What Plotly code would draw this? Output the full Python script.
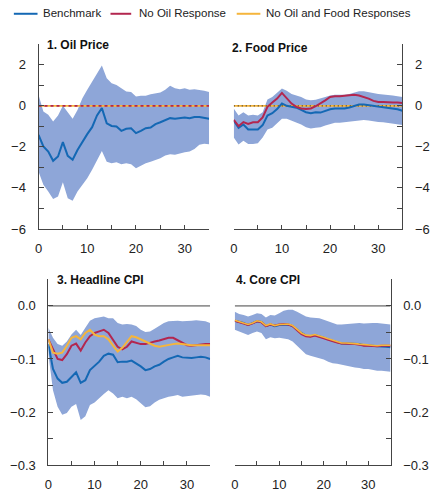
import plotly.graph_objects as go

W, H = 430, 495
months = list(range(36))

# Panel 1: Oil price
oil_bench = [-1.41,-1.98,-2.23,-2.68,-2.47,-1.77,-2.44,-2.63,-2.15,-1.74,-1.38,-1.04,-0.47,-0.11,-0.85,-0.98,-1.01,-1.22,-1.12,-1.09,-1.33,-1.22,-1.09,-1.06,-0.89,-0.80,-0.68,-0.60,-0.63,-0.60,-0.57,-0.60,-0.54,-0.54,-0.60,-0.63]
oil_upper = [0.54,-0.28,-0.44,-0.76,-0.47,0.0,-0.31,-0.63,-0.2,0.37,0.78,1.19,1.59,1.97,1.35,1.1,1.02,0.86,0.7,0.67,0.46,0.49,0.49,0.57,0.62,0.65,0.78,0.98,0.86,0.81,0.86,0.78,0.81,0.78,0.73,0.67]
oil_lower = [-3.2,-3.85,-4.18,-4.54,-4.42,-3.72,-4.5,-4.63,-4.18,-3.85,-3.53,-3.12,-2.63,-2.2,-2.72,-2.8,-2.75,-2.85,-2.8,-2.85,-3.04,-2.91,-2.8,-2.72,-2.63,-2.55,-2.42,-2.36,-2.39,-2.31,-2.26,-2.23,-2.1,-1.9,-1.85,-1.87]
oil_nooil = [0]*36
oil_nooilfood = [0]*36

# Panel 2: Food price
food_bench = [-0.72,-1.07,-0.91,-1.15,-1.15,-1.15,-0.94,-0.47,-0.36,-0.16,0.11,0.0,-0.05,-0.09,-0.2,-0.31,-0.36,-0.31,-0.33,-0.25,-0.17,-0.13,-0.13,-0.13,-0.08,0.0,0.06,0.06,0.03,0.0,-0.03,-0.05,-0.09,-0.13,-0.17,-0.24]
food_nooil = [-0.68,-0.99,-0.79,-0.88,-0.8,-0.8,-0.57,-0.05,0.16,0.35,0.63,0.35,0.11,-0.05,-0.13,-0.16,-0.13,-0.02,0.11,0.27,0.43,0.47,0.47,0.5,0.54,0.54,0.5,0.43,0.35,0.24,0.19,0.19,0.16,0.16,0.16,0.14]
food_nooilfood = [0]*36
food_upper = [-0.13,-0.47,-0.31,-0.47,-0.44,-0.47,-0.31,0.31,0.43,0.63,0.85,0.74,0.58,0.5,0.43,0.31,0.27,0.3,0.35,0.43,0.5,0.54,0.54,0.54,0.58,0.66,0.71,0.71,0.66,0.63,0.58,0.55,0.54,0.5,0.47,0.43]
food_lower = [-1.54,-1.89,-1.7,-1.86,-1.86,-1.83,-1.54,-1.15,-1.07,-0.83,-0.63,-0.63,-0.72,-0.79,-0.91,-1.04,-1.1,-1.07,-1.04,-0.96,-0.88,-0.83,-0.82,-0.79,-0.76,-0.72,-0.69,-0.69,-0.72,-0.76,-0.79,-0.8,-0.83,-0.87,-0.91,-0.94]

# Panel 3: Headline CPI
head_bench = [-0.072,-0.119,-0.137,-0.145,-0.143,-0.134,-0.125,-0.145,-0.140,-0.121,-0.113,-0.105,-0.094,-0.090,-0.092,-0.106,-0.105,-0.105,-0.103,-0.108,-0.114,-0.121,-0.119,-0.114,-0.111,-0.105,-0.100,-0.097,-0.094,-0.097,-0.098,-0.098,-0.097,-0.096,-0.097,-0.100]
head_nooil = [-0.063,-0.082,-0.100,-0.102,-0.091,-0.075,-0.071,-0.084,-0.069,-0.057,-0.051,-0.048,-0.045,-0.051,-0.063,-0.077,-0.082,-0.077,-0.067,-0.069,-0.072,-0.072,-0.069,-0.067,-0.065,-0.063,-0.060,-0.060,-0.065,-0.069,-0.074,-0.075,-0.074,-0.072,-0.072,-0.072]
head_nooilfood = [-0.063,-0.088,-0.090,-0.088,-0.075,-0.060,-0.057,-0.063,-0.051,-0.045,-0.054,-0.057,-0.057,-0.063,-0.075,-0.086,-0.079,-0.069,-0.057,-0.059,-0.063,-0.067,-0.072,-0.075,-0.077,-0.075,-0.074,-0.072,-0.071,-0.072,-0.074,-0.074,-0.074,-0.074,-0.074,-0.074]
head_upper = [-0.041,-0.060,-0.072,-0.075,-0.067,-0.054,-0.045,-0.055,-0.041,-0.028,-0.023,-0.022,-0.020,-0.023,-0.023,-0.032,-0.035,-0.034,-0.035,-0.038,-0.045,-0.049,-0.048,-0.043,-0.037,-0.032,-0.029,-0.028,-0.028,-0.029,-0.029,-0.028,-0.027,-0.028,-0.029,-0.032]
head_lower = [-0.091,-0.159,-0.190,-0.205,-0.202,-0.190,-0.185,-0.215,-0.208,-0.187,-0.182,-0.173,-0.166,-0.159,-0.165,-0.174,-0.171,-0.174,-0.171,-0.176,-0.184,-0.191,-0.189,-0.182,-0.177,-0.174,-0.171,-0.170,-0.168,-0.171,-0.170,-0.168,-0.168,-0.167,-0.168,-0.171]

# Panel 4: Core CPI
core_bench = [-0.028,-0.030,-0.032,-0.036,-0.032,-0.029,-0.030,-0.038,-0.035,-0.038,-0.036,-0.035,-0.035,-0.038,-0.045,-0.051,-0.056,-0.057,-0.055,-0.057,-0.060,-0.063,-0.066,-0.069,-0.071,-0.071,-0.071,-0.071,-0.072,-0.074,-0.074,-0.075,-0.076,-0.076,-0.077,-0.078]
core_nooil = [-0.028,-0.031,-0.033,-0.036,-0.033,-0.029,-0.031,-0.038,-0.035,-0.037,-0.035,-0.034,-0.035,-0.038,-0.046,-0.053,-0.057,-0.058,-0.056,-0.058,-0.061,-0.064,-0.067,-0.069,-0.071,-0.071,-0.071,-0.072,-0.073,-0.075,-0.075,-0.076,-0.076,-0.075,-0.075,-0.075]
core_nooilfood = [-0.027,-0.030,-0.032,-0.035,-0.032,-0.028,-0.030,-0.037,-0.034,-0.037,-0.035,-0.034,-0.034,-0.037,-0.044,-0.051,-0.055,-0.056,-0.054,-0.056,-0.059,-0.062,-0.065,-0.068,-0.070,-0.070,-0.070,-0.071,-0.072,-0.073,-0.074,-0.075,-0.075,-0.074,-0.074,-0.074]
core_upper = [-0.011,-0.015,-0.017,-0.020,-0.017,-0.014,-0.015,-0.022,-0.017,-0.018,-0.014,-0.009,-0.007,-0.007,-0.011,-0.015,-0.020,-0.022,-0.022,-0.023,-0.026,-0.029,-0.032,-0.035,-0.035,-0.034,-0.033,-0.032,-0.032,-0.033,-0.032,-0.032,-0.032,-0.033,-0.034,-0.035]
core_lower = [-0.045,-0.048,-0.051,-0.055,-0.051,-0.048,-0.051,-0.063,-0.059,-0.061,-0.060,-0.061,-0.063,-0.067,-0.075,-0.083,-0.091,-0.094,-0.096,-0.098,-0.101,-0.105,-0.108,-0.109,-0.111,-0.113,-0.114,-0.116,-0.117,-0.119,-0.119,-0.121,-0.122,-0.122,-0.123,-0.124]

legend_names = ["Benchmark", "No Oil Response", "No Oil and Food Responses"]
titles = ["1. Oil Price", "2. Food Price", "3. Headline CPI", "4. Core CPI"]
x_tickvals = [0, 5, 10, 15, 20, 25, 30, 35]
x_ticktext = ["0", "", "10", "", "20", "", "30", ""]
top_tickvals = [-6, -5, -4, -3, -2, -1, 0, 1, 2]
top_ticktext = ["−6", "", "−4", "", "−2", "", "0", "", "2"]
bot_tickvals = [-0.3, -0.25, -0.2, -0.15, -0.1, -0.05, 0.0]
bot_ticktext = ["−0.3", "", "−0.2", "", "−0.1", "", "0.0"]

BLUE = "#1468b4"
RED = "#b3264f"
YELLOW = "#f5b53c"
BAND = "#8ea6d8"
AX = "#444444"
FONT = "Liberation Sans"

fig = go.Figure()

def band(xa, ya, up, lo):
    fig.add_trace(go.Scatter(x=months, y=lo, mode="lines", line=dict(width=0, color=BAND),
                             xaxis=xa, yaxis=ya, showlegend=False, hoverinfo="skip"))
    fig.add_trace(go.Scatter(x=months, y=up, mode="lines", line=dict(width=0, color=BAND),
                             fill="tonexty", fillcolor=BAND, xaxis=xa, yaxis=ya,
                             showlegend=False, hoverinfo="skip"))

def line(xa, ya, y, color, width=2, dash=None):
    fig.add_trace(go.Scatter(x=months, y=y, mode="lines",
                             line=dict(color=color, width=width, dash=dash),
                             xaxis=xa, yaxis=ya, showlegend=False))

# Panel 1
band("x", "y", oil_upper, oil_lower)
line("x", "y", oil_nooilfood, YELLOW, 1.6)
line("x", "y", oil_nooil, RED, 1.6, "3px,3px")
line("x", "y", oil_bench, BLUE, 2)

# Panel 2
band("x2", "y2", food_upper, food_lower)
line("x2", "y2", food_nooilfood, YELLOW, 1.6)
line("x2", "y2", food_nooilfood, "#333333", 1.2, "1px,3px")
line("x2", "y2", food_bench, BLUE, 2)
line("x2", "y2", food_nooil, RED, 2)

# Panel 3
band("x3", "y3", head_upper, head_lower)
fig.add_trace(go.Scatter(x=[0, 35], y=[0, 0], mode="lines", line=dict(color="#444444", width=1),
                         xaxis="x3", yaxis="y3", showlegend=False, hoverinfo="skip"))
line("x3", "y3", head_bench, BLUE, 2)
line("x3", "y3", head_nooil, RED, 2)
line("x3", "y3", head_nooilfood, YELLOW, 2)

# Panel 4
band("x4", "y4", core_upper, core_lower)
fig.add_trace(go.Scatter(x=[0, 35], y=[0, 0], mode="lines", line=dict(color="#444444", width=1),
                         xaxis="x4", yaxis="y4", showlegend=False, hoverinfo="skip"))
line("x4", "y4", core_bench, BLUE, 2)
line("x4", "y4", core_nooil, RED, 2)
line("x4", "y4", core_nooilfood, YELLOW, 1.6)

tickfont = dict(family=FONT, size=13, color="#222222")

def xax(domain, anchor):
    return dict(domain=domain, anchor=anchor, range=[0, 35], tickvals=x_tickvals, ticktext=x_ticktext,
                ticks="inside", ticklen=4, tickcolor=AX, showline=True, linecolor=AX, linewidth=1,
                showgrid=False, zeroline=False, tickfont=tickfont, ticklabelstandoff=7, fixedrange=True)

def yax(domain, anchor, rng, tv, tt, side):
    return dict(domain=domain, anchor=anchor, range=rng, tickvals=tv, ticktext=tt, side=side,
                ticks="inside", ticklen=5, tickcolor=AX, showline=True, linecolor=AX, linewidth=1,
                showgrid=False, zeroline=False, tickfont=tickfont, ticklabelstandoff=9, fixedrange=True)

top_dom = [1 - 232.7 / H, 1 - 45 / H]
bot_dom = [1 - 472.7 / H, 1 - 284 / H]

fig.update_layout(
    width=W, height=H, margin=dict(l=0, r=0, t=0, b=0),
    paper_bgcolor="white", plot_bgcolor="rgba(0,0,0,0)", showlegend=False,
    xaxis=xax([35 / W, 208 / W], "y"),
    yaxis=yax(top_dom, "x", [-6, 3], top_tickvals, top_ticktext, "left"),
    xaxis2=xax([233 / W, 404 / W], "y2"),
    yaxis2=yax(top_dom, "x2", [-6, 3], top_tickvals, top_ticktext, "right"),
    xaxis3=xax([45 / W, 209 / W], "y3"),
    yaxis3=yax(bot_dom, "x3", [-0.3, 0.05], bot_tickvals, bot_ticktext, "left"),
    xaxis4=xax([234 / W, 392 / W], "y4"),
    yaxis4=yax(bot_dom, "x4", [-0.3, 0.05], bot_tickvals, bot_ticktext, "right"),
)

# Panel titles
title_pos = [(42, 46), (229, 49), (52, 285), (233, 285)]
for t, (px, py) in zip(titles, title_pos):
    fig.add_annotation(text="<b>" + t + "</b>", xref="paper", yref="paper", x=px / W, y=1 - py / H,
                       xanchor="left", yanchor="middle", showarrow=False,
                       font=dict(family=FONT, size=12, color="#111111"))

# Legend (drawn manually)
leg = [(10, 34, 38, BLUE), (108, 129, 135, RED), (236, 260, 264, YELLOW)]
for name, (x0, x1, tx, col) in zip(legend_names, leg):
    fig.add_shape(type="line", xref="paper", yref="paper", x0=x0 / W, x1=x1 / W,
                  y0=1 - 14 / H, y1=1 - 14 / H, line=dict(color=col, width=2))
    fig.add_annotation(text=name, xref="paper", yref="paper", x=tx / W, y=1 - 13 / H,
                       xanchor="left", yanchor="middle", showarrow=False,
                       font=dict(family=FONT, size=11.5, color="#222222"))

fig.write_html("out.html")
